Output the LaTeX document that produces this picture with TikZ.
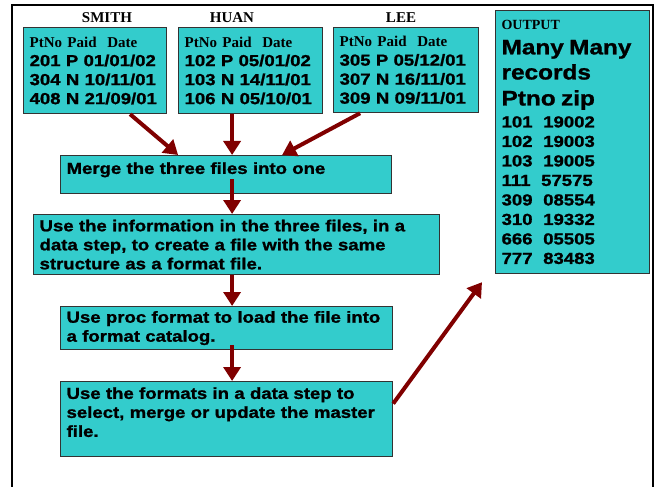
\documentclass[tikz,border=0pt]{standalone}
\usepackage{fontspec}
\setmainfont{Liberation Sans}
\newfontfamily\heavy{Liberation Sans}[FakeStretch=1.16, FakeBold=1.2]
\newfontfamily\tnr{Liberation Serif}
\usetikzlibrary{arrows.meta, positioning}
\definecolor{boxteal}{HTML}{33CCCC}
\definecolor{arrowred}{HTML}{800000}
\tikzset{
  stepbox/.style={draw=black!80, fill=boxteal, line width=1.2pt, anchor=north west,
    align=left, inner xsep=6pt, inner ysep=2pt,
    font=\heavy\bfseries\fontsize{16}{19}\selectfont},
  filename/.style={font=\tnr\bfseries\fontsize{15}{17}\selectfont},
  flow/.style={arrowred, line width=4pt, -{Triangle[length=14pt,width=17pt]}}
}

\begin{document}
\begin{tikzpicture}[x=1pt, y=-1pt]
  \useasboundingbox (0,0) rectangle (657,487);

  % frame
  \draw[line width=2pt, line join=miter] (12,488) -- (12,5) -- (653,5) -- (653,488);

  % the three files
  \node[filename] (smithname) at (107,18) {SMITH};
  \node[filename] (huanname) at (232,18) {HUAN};
  \node[filename] (leename) at (401,18) {LEE};

  \node[stepbox, text width=131pt, minimum height=86pt] (smith) at (23,27)
    {{\tnr\fontsize{15}{19}\selectfont PtNo Paid\ \ Date}\\201 P 01/01/02\\304 N 10/11/01\\408 N 21/09/01};
  \node[stepbox, text width=132pt, minimum height=86pt] (huan) at (178,27)
    {{\tnr\fontsize{15}{19}\selectfont PtNo Paid\ \ Date}\\102 P 05/01/02\\103 N 14/11/01\\106 N 05/10/01};
  \node[stepbox, text width=133pt, minimum height=85pt] (lee) at (333,27)
    {{\tnr\fontsize{15}{19}\selectfont PtNo Paid\ \ Date}\\305 P 05/12/01\\307 N 16/11/01\\309 N 09/11/01};

  % output
  \node[stepbox, text width=142pt, minimum height=263pt, font=\heavy\bfseries\fontsize{16}{19.5}\selectfont] (output) at (495,10)
    {{\tnr\fontsize{14}{16}\selectfont OUTPUT}\\[5.5pt]
     {\fontsize{21}{25}\selectfont Many Many}\\[4.5pt]
     {\fontsize{21}{25}\selectfont records}\\[6.5pt]
     {\fontsize{21}{25}\selectfont Ptno zip}\\[2.5pt]
     101\ \ 19002\\102\ \ 19003\\103\ \ 19005\\111\ \ 57575\\
     309\ \ 08554\\310\ \ 19332\\666\ \ 05505\\777\ \ 83483};

  % steps
  \node[stepbox, text width=319pt, minimum height=38pt] (merge) at (60,155)
    {Merge the three files into one\\[-6pt]\mbox{}};
  \node[stepbox, text width=394pt, minimum height=60pt] (info) at (33,214)
    {Use the information in the three files, in a\\data step, to create a file with the same\\structure as a format file.};
  \node[stepbox, text width=320pt, minimum height=43pt] (proc) at (60,306)
    {Use proc format to load the file into\\a format catalog.};
  \node[stepbox, text width=320pt, minimum height=75pt] (formats) at (60,381)
    {Use the formats in a data step to\\select, merge or update the master\\file.\\[-5pt]\mbox{}};

  % arrows
  \draw[flow] ([xshift=35pt]smith.south) -- ([xshift=-48pt]merge.north);
  \draw[flow] ([xshift=-18.5pt]huan.south) -- ([xshift=6pt]merge.north);
  \draw[flow] ([xshift=-46pt]lee.south) -- ([xshift=56pt]merge.north);
  \draw[flow] ([xshift=6pt,yshift=15pt]merge.south) -- ([xshift=-4.5pt]info.north);
  \draw[flow] ([xshift=-4.5pt]info.south) -- ([xshift=5.5pt]proc.north);
  \draw[flow] ([xshift=5.5pt,yshift=5pt]proc.south) -- ([xshift=5.5pt]formats.north);
  \draw[flow] ([yshift=15.5pt]formats.east) -- ([xshift=-13pt,yshift=-8pt]output.south west);
\end{tikzpicture}
\end{document}
